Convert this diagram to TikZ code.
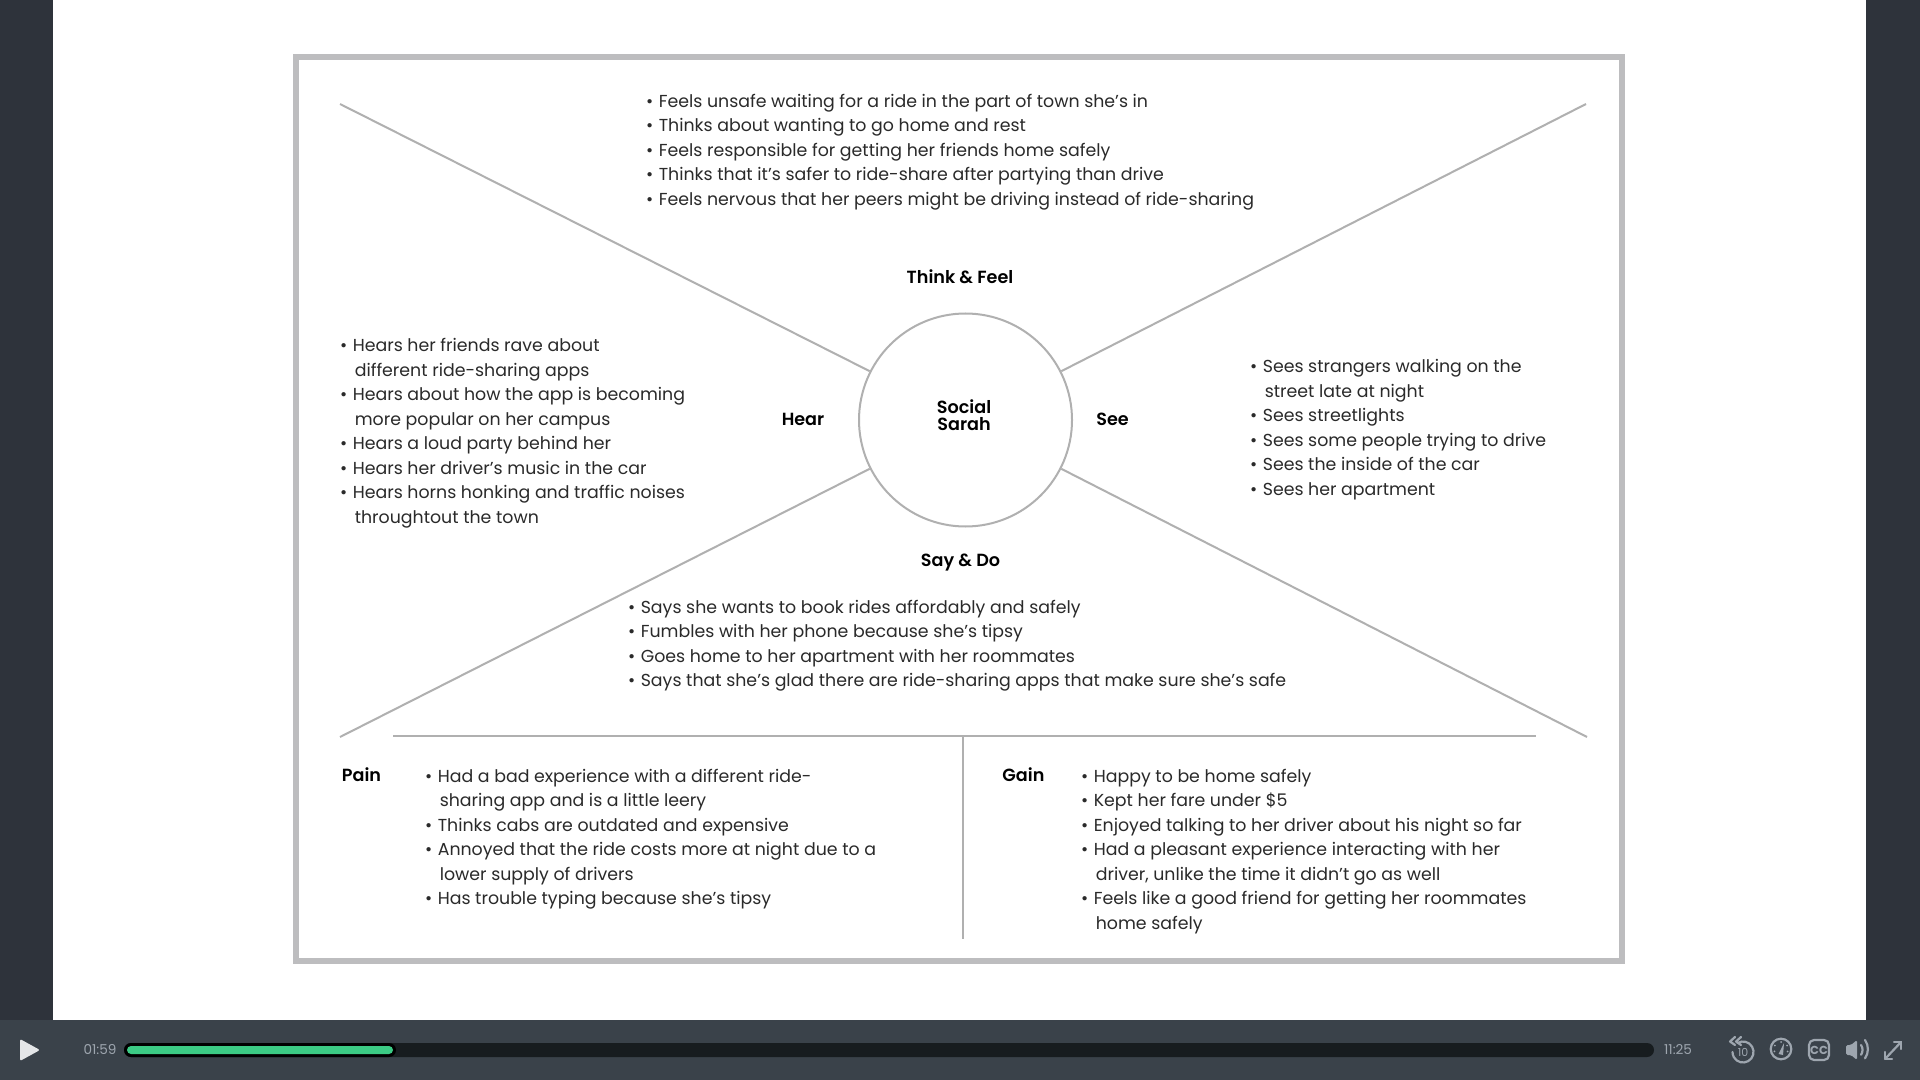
\documentclass[tikz,border=0pt]{standalone}
\usepackage{fontspec}
\setmainfont{Poppins}
\newfontfamily\semib{Poppins SemiBold}
\usetikzlibrary{calc}
\definecolor{sidebar}{HTML}{2E333B}
\definecolor{ctrl}{HTML}{3A424A}
\definecolor{track}{HTML}{171C1F}
\definecolor{prog}{HTML}{3CCB85}
\definecolor{icon}{HTML}{9EA6AF}
\definecolor{playw}{HTML}{E4E6E8}
\definecolor{framegray}{HTML}{BDBDBF}
\definecolor{linegray}{HTML}{B0B0B0}
\definecolor{ink}{HTML}{2A2A2A}
\newcommand{\lsize}{\fontsize{8.68}{12.25}\selectfont}
\newcommand{\mystrut}{\rule{0pt}{8.75pt}\rule[-3.5pt]{0pt}{3.5pt}}
\newcommand{\bl}[1]{\mystrut\makebox[6.4pt][l]{•}#1}
\newcommand{\cn}[1]{\mystrut\hspace*{7.4pt}#1}
\tikzset{
  x=0.5pt,y=-0.5pt,
  listtext/.style={anchor=north west,inner sep=0pt,outer sep=0pt,align=left,text=ink,font=\lsize},
  headlabel/.style={inner sep=0pt,text=black,font=\fontsize{8.8}{8.8}\semib},
  spoke/.style={draw=linegray,line width=1pt},
  timelabel/.style={inner sep=0pt,text=icon,font=\fontsize{6.8}{7}\selectfont},
  iconline/.style={draw=icon,line width=1.1pt,line cap=round,line join=round},
}
\begin{document}
\begin{tikzpicture}
\useasboundingbox (0,0) rectangle (1920,1080);
\fill[white] (0,0) rectangle (1920,1080);
\fill[sidebar] (0,0) rectangle (53,1020);
\fill[sidebar] (1866,0) rectangle (1920,1020);
\fill[ctrl] (0,1020) rectangle (1920,1080);
% frame
\draw[framegray,line width=3.3pt] (296,57) rectangle (1622,961);
% hub
\node[circle,draw=linegray,line width=1pt,minimum size=106.5pt,inner sep=0pt] (hub) at (965.5,420) {};
\node[inner sep=0pt,align=center,text=black,font=\fontsize{8.8}{8.6}\semib] (name) at (964,415) {Social\\Sarah};
\coordinate (tl) at (340,104);
\coordinate (tr) at (1586,104);
\coordinate (bl) at (340,737);
\coordinate (br) at (1587,737);
\draw[spoke] (tl) -- (hub.153.5);
\draw[spoke] (tr) -- (hub.27.5);
\draw[spoke] (bl) -- (hub.207);
\draw[spoke] (br) -- (hub.-27);
\coordinate (hl) at (393,736);
\coordinate (hr) at (1536,736);
\coordinate (vb) at (962.5,939);
\coordinate (vt) at (962.5,736);
\draw[spoke] (hl) -- (hr);
\draw[spoke] (vt) -- (vb);
% labels
\node[headlabel] (think) at (960,276.5) {Think \& Feel};
\node[headlabel] (hear) at (803,419) {Hear};
\node[headlabel] (see) at (1112.5,419) {See};
\node[headlabel] (say) at (960.5,562.5) {Say \& Do};
\node[headlabel,anchor=west] (pain) at (341.5,775) {Pain};
\node[headlabel,anchor=west] (gain) at (1002,775) {Gain};
% lists
\node[listtext] (thinklist) at (646,90) {%
\bl{Feels unsafe waiting for a ride in the part of town she’s in}\\
\bl{Thinks about wanting to go home and rest}\\
\bl{Feels responsible for getting her friends home safely}\\
\bl{Thinks that it’s safer to ride-share after partying than drive}\\
\bl{Feels nervous that her peers might be driving instead of ride-sharing}};
\node[listtext] (hearlist) at (340,334) {%
\bl{Hears her friends rave about}\\
\cn{different ride-sharing apps}\\
\bl{Hears about how the app is becoming}\\
\cn{more popular on her campus}\\
\bl{Hears a loud party behind her}\\
\bl{Hears her driver’s music in the car}\\
\bl{Hears horns honking and traffic noises}\\
\cn{throughtout the town}};
\node[listtext] (seelist) at (1250,355) {%
\bl{Sees strangers walking on the}\\
\cn{street late at night}\\
\bl{Sees streetlights}\\
\bl{Sees some people trying to drive}\\
\bl{Sees the inside of the car}\\
\bl{Sees her apartment}};
\node[listtext] (saylist) at (628,595.5) {%
\bl{Says she wants to book rides affordably and safely}\\
\bl{Fumbles with her phone because she’s tipsy}\\
\bl{Goes home to her apartment with her roommates}\\
\bl{Says that she’s glad there are ride-sharing apps that make sure she’s safe}};
\node[listtext] (painlist) at (425,764.5) {%
\bl{Had a bad experience with a different ride-}\\
\cn{sharing app and is a little leery}\\
\bl{Thinks cabs are outdated and expensive}\\
\bl{Annoyed that the ride costs more at night due to a}\\
\cn{lower supply of drivers}\\
\bl{Has trouble typing because she’s tipsy}};
\node[listtext] (gainlist) at (1081,764.5) {%
\bl{Happy to be home safely}\\
\bl{Kept her fare under \$5}\\
\bl{Enjoyed talking to her driver about his night so far}\\
\bl{Had a pleasant experience interacting with her}\\
\cn{driver, unlike the time it didn’t go as well}\\
\bl{Feels like a good friend for getting her roommates}\\
\cn{home safely}};
% control bar
\fill[playw,rounded corners=1pt] (20,1039) -- (40,1050) -- (20,1061) -- cycle;
\node[timelabel] (t1) at (100,1050) {01:59};
\fill[track,rounded corners=3.5pt] (124,1043) rectangle (1654,1057);
\fill[black,rounded corners=3.5pt] (124,1043) rectangle (396,1057);
\fill[prog,rounded corners=2pt] (127,1046) rectangle (393,1054);
\node[timelabel] (t2) at (1678,1050) {11:25};
% rewind icon
\draw[iconline] (1743,1052) ++(-120:10.5) arc[start angle=-120,end angle=180,radius=10.5];
\draw[iconline] (1741,1037) -- (1736,1041.5) -- (1741,1045);
\draw[iconline] (1735,1037) -- (1730,1041.5) -- (1735,1045);
\node[inner sep=0pt,text=icon,font=\fontsize{5.5}{6}\selectfont] (ten) at (1743,1052) {10};
% gauge icon
\draw[iconline] (1781,1049) circle[radius=10.3];
\fill[icon] (1778.5,1054) -- (1784,1043) -- (1783,1055) -- cycle;
\foreach \a in {30,90,150,200,340}{\fill[icon] ($(1781,1049)+(\a:7 and -7)$) circle[radius=1];}
% CC icon
\draw[iconline,rounded corners=2.5pt] (1809,1040) rectangle (1829,1060);
\node[inner sep=0pt,text=icon,font=\fontsize{5.8}{6}\selectfont\bfseries] (cc) at (1819,1050) {CC};
% speaker
\fill[icon,rounded corners=0.8pt] (1846,1045) -- (1851,1045) -- (1857,1040) -- (1857,1060) -- (1851,1055) -- (1846,1055) -- cycle;
\draw[iconline] (1861,1045) arc[start angle=-35,end angle=35,radius=8.5];
\draw[iconline] (1865,1040) arc[start angle=-35,end angle=35,radius=16];
% fullscreen
\draw[iconline] (1885,1059) -- (1901,1042);
\draw[iconline] (1894,1042) -- (1901,1042) -- (1901,1049);
\draw[iconline] (1885,1052) -- (1885,1059) -- (1892,1059);
\end{tikzpicture}
\end{document}
